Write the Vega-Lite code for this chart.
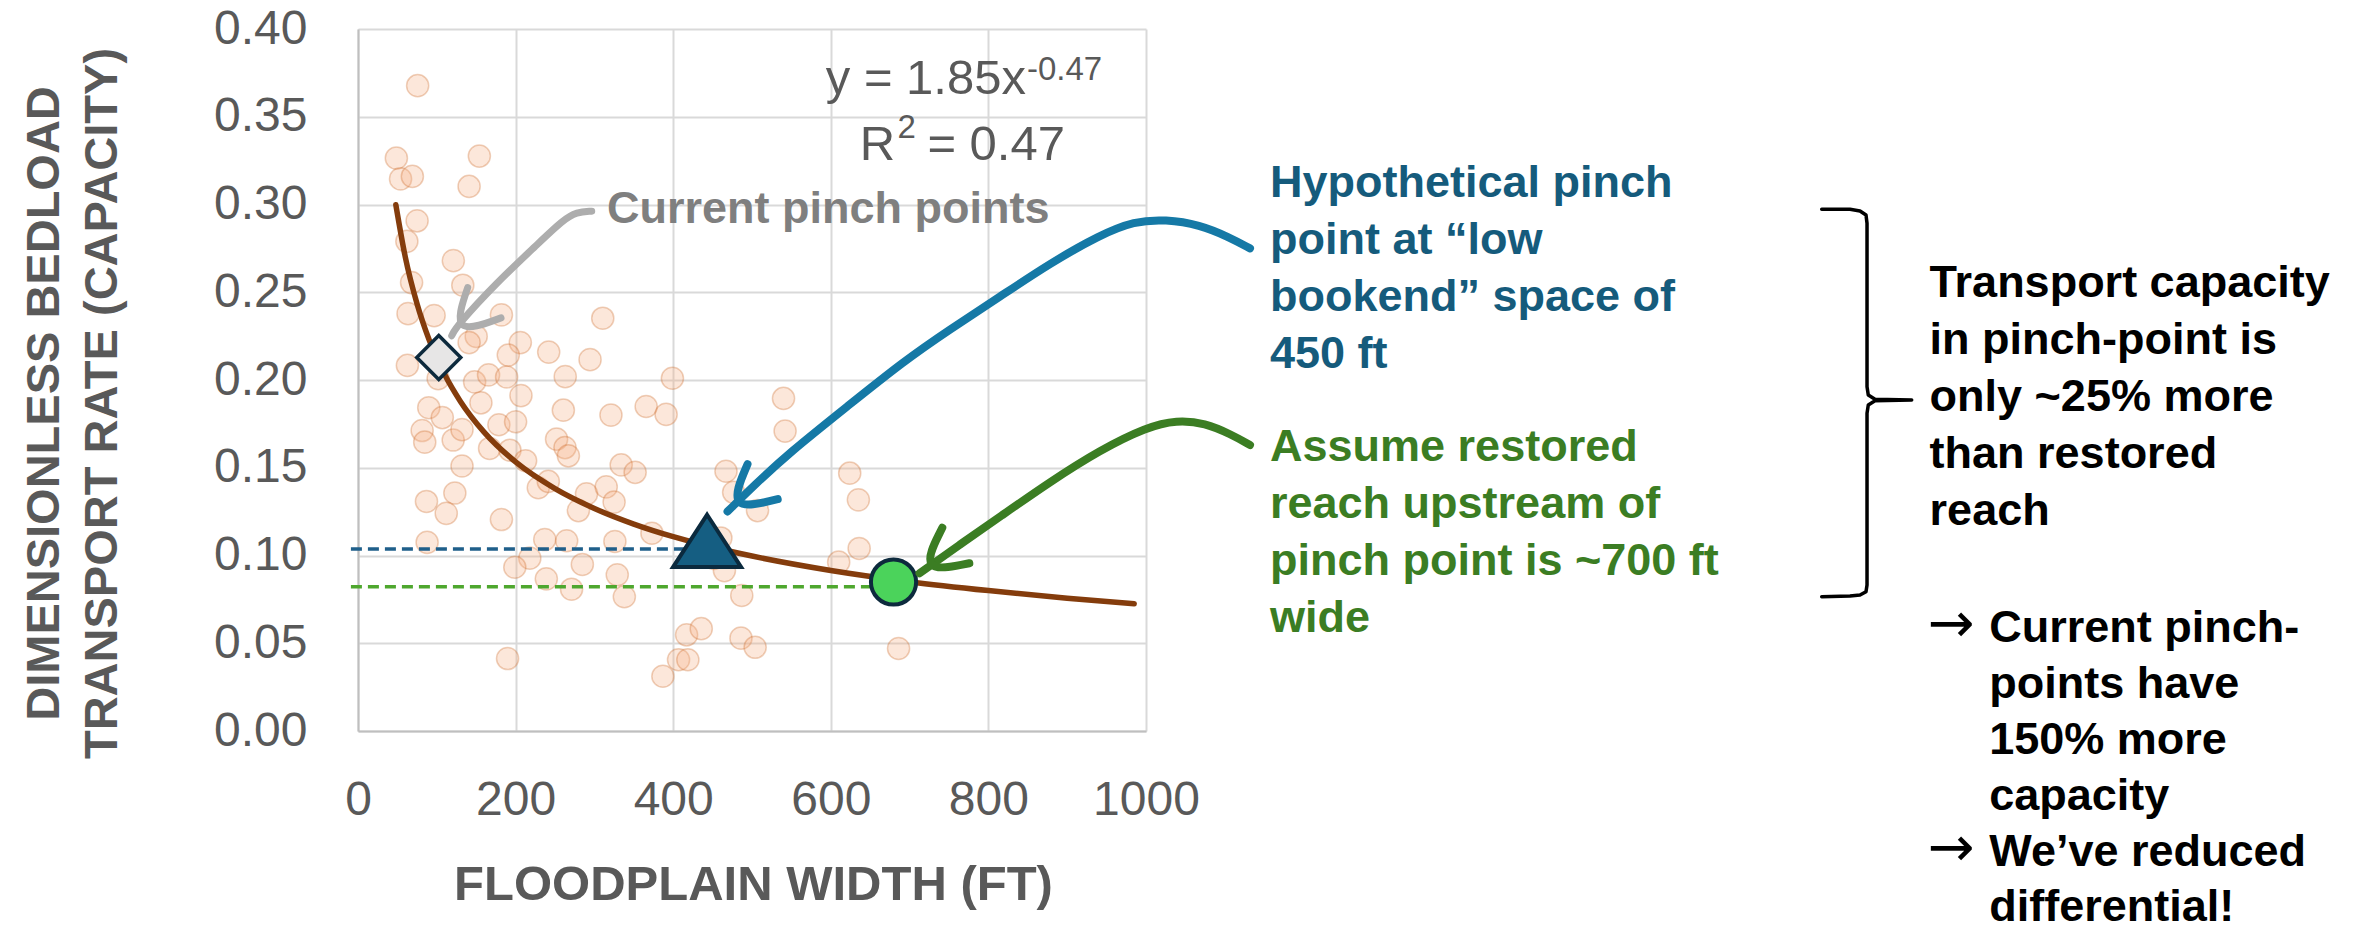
{
  "$schema": "https://vega.github.io/schema/vega-lite/v6.json",
  "width": 788,
  "height": 702,
  "autosize": {"type": "none"},
  "padding": {"left": 358, "top": 29, "right": 1213, "bottom": 202},
  "background": "white",
  "config": {"view": {"stroke": null}},
  "datasets": {
    "pts": [
      {"x":48.7,"y":0.3264},{"x":54,"y":0.3146},{"x":69,"y":0.316},{"x":154,"y":0.3276},{"x":141,"y":0.3103},{"x":75.7,"y":0.3677},{"x":75,"y":0.2907},{"x":62,"y":0.279},{"x":121,"y":0.268},{"x":68,"y":0.2555},{"x":133,"y":0.254},{"x":63.5,"y":0.2378},{"x":96.6,"y":0.2367},{"x":150,"y":0.2248},{"x":182,"y":0.2371},{"x":141,"y":0.2213},{"x":206,"y":0.2213},{"x":310.6,"y":0.2352},{"x":242,"y":0.2159},{"x":294.5,"y":0.2116},{"x":190.7,"y":0.2142},{"x":62.7,"y":0.2083},{"x":148,"y":0.1989},{"x":165.7,"y":0.2029},{"x":188.6,"y":0.2017},{"x":263,"y":0.2019},{"x":399,"y":0.201},{"x":101.7,"y":0.2008},{"x":206.8,"y":0.1911},{"x":156,"y":0.187},{"x":89.8,"y":0.1842},{"x":260.6,"y":0.1828},{"x":107,"y":0.1786},{"x":321,"y":0.18},{"x":365.7,"y":0.1849},{"x":391,"y":0.1804},{"x":81.4,"y":0.1712},{"x":84.7,"y":0.1646},{"x":120.8,"y":0.1658},{"x":132,"y":0.1717},{"x":178.8,"y":0.1745},{"x":200,"y":0.1762},{"x":167,"y":0.161},{"x":252,"y":0.1663},{"x":262.7,"y":0.1615},{"x":267,"y":0.1568},{"x":132,"y":0.151},{"x":192.8,"y":0.16},{"x":212.7,"y":0.154},{"x":228.8,"y":0.1386},{"x":241.5,"y":0.1422},{"x":290,"y":0.1351},{"x":315,"y":0.1391},{"x":334,"y":0.1516},{"x":351.7,"y":0.1474},{"x":325,"y":0.1304},{"x":279.7,"y":0.1256},{"x":86.9,"y":0.1308},{"x":122.9,"y":0.1356},{"x":112,"y":0.124},{"x":182,"y":0.1205},{"x":87.7,"y":0.1075},{"x":237,"y":0.1091},{"x":264.8,"y":0.1084},{"x":326,"y":0.108},{"x":373,"y":0.1127},{"x":218,"y":0.0985},{"x":199,"y":0.0933},{"x":239,"y":0.0867},{"x":284.7,"y":0.0949},{"x":271,"y":0.0808},{"x":329,"y":0.089},{"x":338,"y":0.0765},{"x":450,"y":0.1032},{"x":460.5,"y":0.11},{"x":465,"y":0.0914},{"x":451.6,"y":0.0983},{"x":487,"y":0.0772},{"x":417,"y":0.0548},{"x":435.6,"y":0.0583},{"x":486,"y":0.0529},{"x":504,"y":0.0477},{"x":406.8,"y":0.0406},{"x":418.6,"y":0.0406},{"x":386.9,"y":0.0312},{"x":189.8,"y":0.0413},{"x":467,"y":0.148},{"x":476.7,"y":0.136},{"x":507,"y":0.1256},{"x":540,"y":0.1895},{"x":542,"y":0.1709},{"x":624,"y":0.1469},{"x":635,"y":0.1317},{"x":636,"y":0.104},{"x":610,"y":0.0962},{"x":686,"y":0.047}
    ],
    "trend": [
      {"x":48,"y":0.2999},{"x":60,"y":0.2701},{"x":75,"y":0.2433},{"x":90,"y":0.2232},{"x":110,"y":0.2031},{"x":130,"y":0.1878},{"x":160,"y":0.1703},{"x":200,"y":0.1533},{"x":250,"y":0.1381},{"x":300,"y":0.1268},{"x":350,"y":0.1179},{"x":400,"y":0.1107},{"x":450,"y":0.1047},{"x":500,"y":0.0997},{"x":600,"y":0.0915},{"x":700,"y":0.0851},{"x":800,"y":0.08},{"x":900,"y":0.0756},{"x":985,"y":0.0725}
    ],
    "dashBlue": [{"x":-9,"y":0.1037},{"x":440,"y":0.1037}],
    "dashGreen": [{"x":-9,"y":0.0822},{"x":665,"y":0.0822}],
    "tri": [{"x":443,"y":0.1083}],
    "dia": [{"x":102.5,"y":0.2128}],
    "dot": [{"x":679.6,"y":0.0849}],
    "grayArrow": [
      {"s":"a","o":1,"x":296.6,"y":0.2962},{"s":"a","o":2,"x":277.5,"y":0.2957},{"s":"a","o":3,"x":260.2,"y":0.2912},{"s":"a","o":4,"x":226.8,"y":0.2769},{"s":"a","o":5,"x":176,"y":0.2555},{"s":"a","o":6,"x":125.3,"y":0.2308},{"s":"a","o":7,"x":118.9,"y":0.2252},
      {"s":"b","o":1,"x":139.2,"y":0.2526},{"s":"b","o":2,"x":118.9,"y":0.2252},{"s":"b","o":3,"x":181.5,"y":0.2354}
    ],
    "blueArrow": [
      {"s":"a","o":1,"x":1132,"y":0.275},{"s":"a","o":2,"x":1105,"y":0.2815},{"s":"a","o":3,"x":1068,"y":0.2885},{"s":"a","o":4,"x":1025,"y":0.2915},{"s":"a","o":5,"x":985,"y":0.2905},{"s":"a","o":6,"x":941.6,"y":0.2826},{"s":"a","o":7,"x":878.2,"y":0.2665},{"s":"a","o":8,"x":814.7,"y":0.2475},{"s":"a","o":9,"x":750,"y":0.2285},{"s":"a","o":10,"x":692.9,"y":0.2108},{"s":"a","o":11,"x":620,"y":0.1846},{"s":"a","o":12,"x":547,"y":0.1584},{"s":"a","o":13,"x":503.6,"y":0.1403},{"s":"a","o":14,"x":469,"y":0.1251},
      {"s":"b","o":1,"x":494.3,"y":0.152},{"s":"b","o":2,"x":469,"y":0.1251},{"s":"b","o":3,"x":532.6,"y":0.1321}
    ],
    "greenArrow": [
      {"s":"a","o":1,"x":1132,"y":0.163},{"s":"a","o":2,"x":1108,"y":0.169},{"s":"a","o":3,"x":1075,"y":0.1755},{"s":"a","o":4,"x":1039,"y":0.1772},{"s":"a","o":5,"x":1000.9,"y":0.1732},{"s":"a","o":6,"x":941.6,"y":0.1601},{"s":"a","o":7,"x":878.2,"y":0.142},{"s":"a","o":8,"x":814.7,"y":0.1221},{"s":"a","o":9,"x":764,"y":0.1063},{"s":"a","o":10,"x":712.6,"y":0.0899},
      {"s":"b","o":1,"x":741.5,"y":0.1158},{"s":"b","o":2,"x":712.6,"y":0.0899},{"s":"b","o":3,"x":775.8,"y":0.0956}
    ],
    "brace": [
      {"o":1,"x":1857.5,"y":0.29726},{"o":2,"x":1893.4,"y":0.29726},{"o":3,"x":1906.1,"y":0.2963},{"o":4,"x":1913.7,"y":0.294},{"o":5,"x":1915,"y":0.28929},{"o":6,"x":1915,"y":0.19618},{"o":7,"x":1916.6,"y":0.19145},{"o":8,"x":1925.1,"y":0.189},{"o":9,"x":1971.7,"y":0.1886},{"o":10,"x":1925.1,"y":0.1882},{"o":11,"x":1916.6,"y":0.18575},{"o":12,"x":1915,"y":0.18103},{"o":13,"x":1915,"y":0.08319},{"o":14,"x":1913.7,"y":0.07937},{"o":15,"x":1906.1,"y":0.07749},{"o":16,"x":1893.4,"y":0.07692},{"o":17,"x":1857.5,"y":0.07652}
    ],
    "eqMain": [
      {"x":847.7,"y":0.3627,"t":"y = 1.85x"},
      {"x":681.5,"y":0.3254,"t":"R"},
      {"x":897.2,"y":0.3254,"t":"= 0.47"}
    ],
    "eqSup": [
      {"x":848.9,"y":0.3709,"t":"-0.47"},
      {"x":684.5,"y":0.3379,"t":"2"}
    ],
    "notes": [
      {"x":316,"y":0.28946,"g":"gray","t":"Current pinch points"},
      {"x":1157.4,"y":0.30399,"g":"blue","t":"Hypothetical pinch\npoint at “low\nbookend” space of\n450 ft"},
      {"x":1157.4,"y":0.15385,"g":"green","t":"Assume restored\nreach upstream of\npinch point is ~700 ft\nwide"},
      {"x":1994.4,"y":0.24701,"g":"black","t":"Transport capacity\nin pinch-point is\nonly ~25% more\nthan restored\nreach"}
    ],
    "notes2": [
      {"x":2070.1,"y":0.0505,"t":"Current pinch-\npoints have\n150% more\ncapacity\nWe’ve reduced\ndifferential!"}
    ],
    "arrows": [
      {"x":1992,"y":0.0505,"t":"→"},
      {"x":1992,"y":-0.0767,"t":"→"}
    ]
  },
  "encoding": {
    "x": {
      "field": "x", "type": "quantitative",
      "scale": {"domain": [0, 1000], "nice": false, "zero": false},
      "axis": {
        "values": [0, 200, 400, 600, 800, 1000],
        "format": "d",
        "title": "FLOODPLAIN WIDTH (FT)",
        "grid": true, "gridColor": "#D9D9D9", "gridWidth": 2,
        "domain": true, "domainColor": "#BFBFBF", "domainWidth": 2,
        "ticks": false,
        "labelFont": "Liberation Sans", "labelFontSize": 48, "labelColor": "#595959",
        "labelPadding": 45, "labelFlush": false, "labelOverlap": false, "labelBound": false,
        "titleFont": "Liberation Sans", "titleFontSize": 49, "titleFontWeight": "bold", "titleColor": "#595959",
        "titleX": 395, "titleY": 168, "titleBaseline": "alphabetic", "titleAlign": "center"
      }
    },
    "y": {
      "field": "y", "type": "quantitative",
      "scale": {"domain": [0, 0.4], "nice": false, "zero": false},
      "axis": {
        "values": [0, 0.05, 0.1, 0.15, 0.2, 0.25, 0.3, 0.35, 0.4],
        "format": ".2f",
        "title": ["DIMENSIONLESS BEDLOAD", "TRANSPORT RATE (CAPACITY)"],
        "grid": true, "gridColor": "#D9D9D9", "gridWidth": 2,
        "domain": true, "domainColor": "#BFBFBF", "domainWidth": 2,
        "ticks": false,
        "labelFont": "Liberation Sans", "labelFontSize": 48, "labelColor": "#595959",
        "labelPadding": 51,
        "titleFont": "Liberation Sans", "titleFontSize": 47, "titleFontWeight": "bold", "titleColor": "#595959",
        "titleAngle": 270, "titleX": -300, "titleY": 374, "titleAlign": "center", "titleBaseline": "alphabetic",
        "titleLineHeight": 58
      }
    }
  },
  "layer": [
    {
      "data": {"name": "pts"},
      "mark": {"type": "point", "shape": "circle", "filled": true, "size": 490, "fill": "#F4B183", "fillOpacity": 0.3, "stroke": "#C55A11", "strokeOpacity": 0.28, "strokeWidth": 1.5}
    },
    {
      "data": {"name": "trend"},
      "mark": {"type": "line", "color": "#843C0C", "strokeWidth": 5.5, "interpolate": "monotone", "strokeCap": "round"}
    },
    {
      "data": {"name": "dashBlue"},
      "mark": {"type": "line", "color": "#1F5F8A", "strokeWidth": 3.5, "strokeDash": [11, 6]}
    },
    {
      "data": {"name": "dashGreen"},
      "mark": {"type": "line", "color": "#4EA72E", "strokeWidth": 3.5, "strokeDash": [11, 6]}
    },
    {
      "data": {"name": "tri"},
      "mark": {"type": "point", "shape": "M 0 -0.77 L 1 0.77 L -1 0.77 Z", "filled": true, "size": 4624, "fill": "#155E82", "fillOpacity": 1, "stroke": "#0B2A3E", "strokeWidth": 4, "opacity": 1}
    },
    {
      "data": {"name": "dia"},
      "mark": {"type": "point", "shape": "diamond", "filled": true, "size": 1936, "fill": "#E7E6E6", "fillOpacity": 1, "stroke": "#0D2A3D", "strokeWidth": 3.5, "opacity": 1}
    },
    {
      "data": {"name": "dot"},
      "mark": {"type": "point", "shape": "circle", "filled": true, "size": 2043, "fill": "#4BD35B", "fillOpacity": 1, "stroke": "#0D2A3D", "strokeWidth": 4, "opacity": 1}
    },
    {
      "data": {"name": "grayArrow"},
      "mark": {"type": "line", "color": "#ADADAD", "strokeWidth": 7, "interpolate": "basis", "strokeCap": "round", "strokeJoin": "round"},
      "encoding": {"detail": {"field": "s"}, "order": {"field": "o", "type": "quantitative"}}
    },
    {
      "data": {"name": "blueArrow"},
      "mark": {"type": "line", "color": "#1579A6", "strokeWidth": 8, "interpolate": "basis", "strokeCap": "round", "strokeJoin": "round"},
      "encoding": {"detail": {"field": "s"}, "order": {"field": "o", "type": "quantitative"}}
    },
    {
      "data": {"name": "greenArrow"},
      "mark": {"type": "line", "color": "#3B7D23", "strokeWidth": 8, "interpolate": "basis", "strokeCap": "round", "strokeJoin": "round"},
      "encoding": {"detail": {"field": "s"}, "order": {"field": "o", "type": "quantitative"}}
    },
    {
      "data": {"name": "brace"},
      "mark": {"type": "line", "color": "#000000", "strokeWidth": 3.5, "strokeJoin": "round", "strokeCap": "round"},
      "encoding": {"order": {"field": "o", "type": "quantitative"}}
    },
    {
      "data": {"name": "eqMain"},
      "mark": {"type": "text", "font": "Liberation Sans", "fontSize": 49, "color": "#595959", "align": "right", "baseline": "alphabetic"},
      "encoding": {"text": {"field": "t"}}
    },
    {
      "data": {"name": "eqSup"},
      "mark": {"type": "text", "font": "Liberation Sans", "fontSize": 33, "color": "#595959", "align": "left", "baseline": "alphabetic"},
      "encoding": {"text": {"field": "t"}}
    },
    {
      "data": {"name": "notes"},
      "mark": {"type": "text", "font": "Liberation Sans", "fontSize": 45, "fontWeight": "bold", "align": "left", "baseline": "alphabetic", "lineBreak": "\n", "lineHeight": 57},
      "encoding": {
        "text": {"field": "t"},
        "color": {"field": "g", "type": "nominal", "legend": null,
          "scale": {"domain": ["gray", "blue", "green", "black"], "range": ["#7F7F7F", "#155B7C", "#3B7D23", "#000000"]}}
      }
    },
    {
      "data": {"name": "notes2"},
      "mark": {"type": "text", "font": "Liberation Sans", "fontSize": 45, "fontWeight": "bold", "color": "#000000", "align": "left", "baseline": "alphabetic", "lineBreak": "\n", "lineHeight": 55.8},
      "encoding": {"text": {"field": "t"}}
    },
    {
      "data": {"name": "arrows"},
      "mark": {"type": "text", "font": "DejaVu Sans", "fontSize": 56, "color": "#000000", "align": "left", "baseline": "alphabetic"},
      "encoding": {"text": {"field": "t"}}
    }
  ]
}
